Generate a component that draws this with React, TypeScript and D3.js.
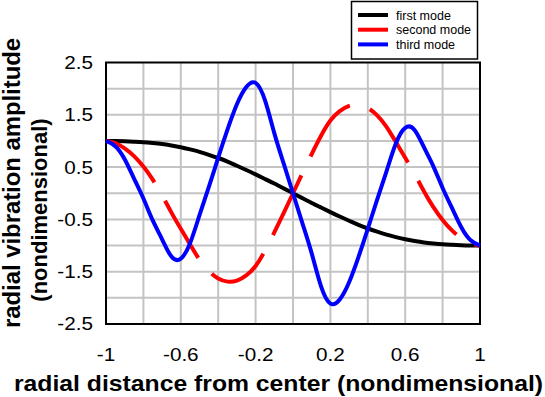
import React from "react";
import * as d3 from "d3";

const xs = [-1, -0.95, -0.9, -0.85, -0.8, -0.75, -0.7, -0.65, -0.6, -0.55, -0.5, -0.45, -0.4, -0.35, -0.3, -0.25, -0.2, -0.15, -0.1, -0.05, 0,
  0.05, 0.1, 0.15, 0.2, 0.25, 0.3, 0.35, 0.4, 0.45, 0.5, 0.55, 0.6, 0.65, 0.7, 0.75, 0.8, 0.85, 0.9, 0.95, 1];

const firstMode = [1.0, 0.999, 0.995, 0.987, 0.977, 0.961, 0.941, 0.913, 0.88, 0.838, 0.791, 0.735, 0.674, 0.605, 0.525, 0.445, 0.36, 0.273, 0.185, 0.093, 0,
  -0.093, -0.185, -0.273, -0.36, -0.445, -0.525, -0.605, -0.674, -0.735, -0.791, -0.838, -0.88, -0.913, -0.941, -0.961, -0.977, -0.987, -0.995, -0.999, -1.0];

const secondMode = [1.0, 0.96, 0.86, 0.71, 0.51, 0.26, -0.04, -0.37, -0.68, -0.98, -1.27, -1.49, -1.63, -1.69, -1.67, -1.57, -1.39, -1.1, -0.75, -0.38, 0,
  0.38, 0.75, 1.1, 1.39, 1.57, 1.67, 1.69, 1.63, 1.49, 1.27, 0.98, 0.68, 0.37, 0.04, -0.26, -0.51, -0.71, -0.86, -0.96, -1.0];

const thirdMode = [1.0, 0.9, 0.65, 0.28, -0.1, -0.52, -0.88, -1.21, -1.25, -0.95, -0.42, 0.12, 0.68, 1.22, 1.7, 2.03, 2.11, 1.78, 1.15, 0.57, 0,
  -0.57, -1.15, -1.78, -2.11, -2.03, -1.7, -1.22, -0.68, -0.12, 0.42, 0.95, 1.25, 1.21, 0.88, 0.52, 0.1, -0.28, -0.65, -0.9, -1.0];

const xTicks = [-1, -0.6, -0.2, 0.2, 0.6, 1];
const xTickLabels = ["-1", "-0.6", "-0.2", "0.2", "0.6", "1"];
const yTicks = [2.5, 1.5, 0.5, -0.5, -1.5, -2.5];
const yTickLabels = ["2.5", "1.5", "0.5", "-0.5", "-1.5", "-2.5"];
const xGrid = [-0.8, -0.6, -0.4, -0.2, 0, 0.2, 0.4, 0.6, 0.8];
const yGrid = [2, 1.5, 1, 0.5, 0, -0.5, -1, -1.5, -2];
const legendNames = ["first mode", "second mode", "third mode"];
const colors = ["#000000", "#ff0000", "#0000ff"];

const W = 545, H = 397;
const L = 106, R = 480, T = 62.5, B = 324;
const FONT = "'Liberation Sans', Arial, sans-serif";

export default function App() {
  const x = d3.scaleLinear().domain([-1, 1]).range([L, R]);
  const y = d3.scaleLinear().domain([-2.5, 2.5]).range([B, T]);
  const line = d3.line<number>().x((_, i) => x(xs[i])).y((d) => y(d)).curve(d3.curveNatural);

  return (
    <svg width={W} height={H} style={{ position: "absolute", left: 0, top: 0, background: "#fff" }}>
      <rect x={0} y={0} width={W} height={H} fill="#fff" />
      {xGrid.map((g) => (
        <line key={"xg" + g} x1={x(g)} x2={x(g)} y1={T} y2={B} stroke="#c4c4c4" strokeWidth={2} />
      ))}
      {yGrid.map((g) => (
        <line key={"yg" + g} x1={L} x2={R} y1={y(g)} y2={y(g)} stroke="#c4c4c4" strokeWidth={2} />
      ))}
      <rect x={L} y={T} width={R - L} height={B - T} fill="none" stroke="#000" strokeWidth={2} />
      <path d={line(firstMode) || ""} fill="none" stroke={colors[0]} strokeWidth={4} />
      <path d={line(secondMode) || ""} fill="none" stroke={colors[1]} strokeWidth={4} strokeDasharray="66 21" />
      <path d={line(thirdMode) || ""} fill="none" stroke={colors[2]} strokeWidth={4} />
      {yTicks.map((t, i) => (
        <g key={"yt" + t} transform={`translate(93,${y(t)}) scale(1.15,1)`}>
          <text x={0} y={0} dy="0.36em" textAnchor="end" fontFamily={FONT} fontSize={18}>{yTickLabels[i]}</text>
        </g>
      ))}
      {xTicks.map((t, i) => (
        <g key={"xt" + t} transform={`translate(${x(t)},361) scale(1.15,1)`}>
          <text x={0} y={0} textAnchor="middle" fontFamily={FONT} fontSize={18}>{xTickLabels[i]}</text>
        </g>
      ))}
      <text x={14} y={391} fontFamily={FONT} fontSize={22} fontWeight="bold" textLength={529} lengthAdjust="spacingAndGlyphs">
        radial distance from center (nondimensional)
      </text>
      <text transform="translate(20,183) rotate(-90)" textAnchor="middle" fontFamily={FONT} fontSize={23} fontWeight="bold" textLength={290} lengthAdjust="spacingAndGlyphs">
        radial vibration amplitude
      </text>
      <text transform="translate(47,210) rotate(-90)" textAnchor="middle" fontFamily={FONT} fontSize={22} fontWeight="bold">
        (nondimensional)
      </text>
      <rect x={351.5} y={1.5} width={126} height={57.5} fill="#fff" stroke="#000" strokeWidth={1.5} />
      {legendNames.map((n, i) => (
        <g key={n}>
          <line x1={358} x2={388} y1={15 + i * 14.7} y2={15 + i * 14.7} stroke={colors[i]} strokeWidth={4} />
          <text x={396} y={15 + i * 14.7} dy="0.36em" fontFamily={FONT} fontSize={12.5}>{n}</text>
        </g>
      ))}
    </svg>
  );
}
